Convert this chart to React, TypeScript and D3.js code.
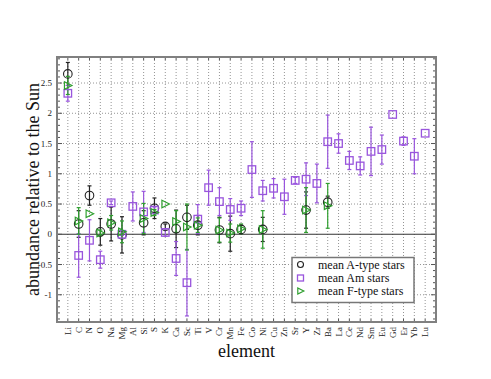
import React from "react";
import * as d3 from "d3";

const elements = ["Li","C","N","O","Na","Mg","Al","Si","S","K","Ca","Sc","Ti","V","Cr","Mn","Fe","Co","Ni","Cu","Zn","Sr","Y","Zr","Ba","La","Ce","Nd","Sm","Eu","Gd","Er","Yb","Lu"];

// mean A-type stars
const aVal: (number | null)[] = [2.65,0.17,0.64,0.04,0.17,-0.01,null,0.19,0.43,0.13,0.09,0.28,0.15,null,0.07,0.01,0.08,null,0.08,null,null,null,0.40,null,0.53,null,null,null,null,null,null,null,null,null];
const aErr: (number | null)[] = [0.19,0.22,0.16,0.22,0.28,0.30,null,0.20,0.17,0.04,0.31,0.20,0.16,null,0.21,0.29,0.07,null,0.20,null,null,null,0.30,null,0.10,null,null,null,null,null,null,null,null,null];

// mean Am stars
const amVal: (number | null)[] = [2.33,-0.35,-0.10,-0.42,0.52,0.00,0.46,0.37,0.40,0.03,-0.40,-0.80,0.25,0.77,0.54,0.41,0.43,1.07,0.72,0.76,0.62,0.89,0.91,0.84,1.53,1.50,1.22,1.13,1.37,1.40,1.98,1.54,1.29,1.67];
const amErr: (number | null)[] = [0.13,0.36,0.34,0.14,0.03,0.02,0.24,0.34,0.05,0.06,0.28,0.55,0.24,0.29,0.23,0.18,0.12,0.46,0.17,0.16,0.29,0.05,0.27,0.32,0.44,0.16,0.15,0.15,0.40,0.24,null,0.07,0.29,null];

// mean F-type stars
const fVal: (number | null)[] = [2.46,0.22,0.34,0.02,0.19,0.04,null,0.26,0.36,0.50,0.21,0.12,0.15,null,0.07,0.02,0.09,null,0.08,null,null,null,0.40,null,0.47,null,null,null,null,null,null,null,null,null];
const fErr: (number | null)[] = [0.15,0.22,null,0.05,0.12,0.18,null,0.25,0.05,null,0.18,0.38,0.12,null,0.20,0.15,0.08,null,0.31,null,null,null,0.37,null,0.37,null,null,null,null,null,null,null,null,null];

const yTicks = [-1, -0.5, 0, 0.5, 1, 1.5, 2, 2.5];
const yTickLabels = ["-1", "-0.5", "0", "0.5", "1", "1.5", "2", "2.5"];
const legendLabels = ["mean A-type stars", "mean Am stars", "mean F-type stars"];

const W = 491, H = 379;
const L = 57, R = 436, T = 57, B = 322;
const PURPLE = "#9955dd";
const GREEN = "#2f9f2f";
const BLACK = "#222";
const FONT = "'Liberation Serif', 'Times New Roman', serif";

export default function App() {
  const x = d3.scaleLinear().domain([-1, elements.length]).range([L, R]);
  const y = d3.scaleLinear().domain([-1.45, 2.93]).range([B, T]);
  const minor = d3.range(-14, 30).map((v) => v / 10);

  const errBars = (vals: (number | null)[], errs: (number | null)[], color: string, key: string) =>
    vals.map((v, i) => {
      const e = errs[i];
      if (v == null || e == null) return null;
      const cx = x(i);
      return (
        <g key={key + i} stroke={color} strokeWidth={1.2}>
          <line x1={cx} x2={cx} y1={y(v + e)} y2={y(v - e)} />
          <line x1={cx - 2} x2={cx + 2} y1={y(v + e)} y2={y(v + e)} />
          <line x1={cx - 2} x2={cx + 2} y1={y(v - e)} y2={y(v - e)} />
        </g>
      );
    });

  const circle = (cx: number, cy: number, r: number, k: string) => (
    <circle key={k} cx={cx} cy={cy} r={r} fill="none" stroke={BLACK} strokeWidth={1.1} />
  );
  const square = (cx: number, cy: number, s: number, k: string) => (
    <rect key={k} x={cx - s / 2} y={cy - s / 2} width={s} height={s} fill="none" stroke={PURPLE} strokeWidth={1.3} />
  );
  const tri = (cx: number, cy: number, s: number, k: string) => (
    <path key={k} d={`M${cx - s * 0.45},${cy - s / 2}L${cx + s * 0.55},${cy}L${cx - s * 0.45},${cy + s / 2}Z`} fill="none" stroke={GREEN} strokeWidth={1.2} />
  );

  return (
    <div style={{ position: "absolute", left: 0, top: 0 }}>
      <svg width={W} height={H} style={{ display: "block", background: "#fff" }}>
        {/* grid */}
        {elements.map((el, i) => (
          <line key={"gx" + el} x1={x(i)} x2={x(i)} y1={T} y2={B} stroke="#888" strokeWidth={0.9} strokeDasharray="1,2" />
        ))}
        {yTicks.filter((t) => t !== 0).map((t) => (
          <line key={"gy" + t} x1={L} x2={R} y1={y(t)} y2={y(t)} stroke="#888" strokeWidth={0.9} strokeDasharray="1,2" />
        ))}
        <line x1={L} x2={R} y1={y(0)} y2={y(0)} stroke="#333" strokeWidth={1.2} />

        {/* ticks */}
        {minor.map((t) => {
          const major = Math.abs(t * 2 - Math.round(t * 2)) < 1e-6;
          const len = major ? 5 : 3;
          return (
            <g key={"mt" + t} stroke="#555" strokeWidth={1}>
              <line x1={L} x2={L + len} y1={y(t)} y2={y(t)} />
              <line x1={R} x2={R - len} y1={y(t)} y2={y(t)} />
            </g>
          );
        })}
        {elements.map((el, i) => (
          <g key={"xt" + el} stroke="#555" strokeWidth={1}>
            <line x1={x(i)} x2={x(i)} y1={B} y2={B - 3} />
            <line x1={x(i)} x2={x(i)} y1={T} y2={T + 3} />
          </g>
        ))}

        {/* series */}
        {errBars(aVal, aErr, BLACK, "ea")}
        {errBars(amVal, amErr, PURPLE, "em")}
        {errBars(fVal, fErr, GREEN, "ef")}
        {aVal.map((v, i) => (v == null ? null : circle(x(i), y(v), 4.3, "ca" + i)))}
        {amVal.map((v, i) => (v == null ? null : square(x(i), y(v), 7.5, "sm" + i)))}
        {fVal.map((v, i) => (v == null ? null : tri(x(i), y(v), 7.5, "tf" + i)))}

        {/* frame */}
        <rect x={L} y={T} width={R - L} height={B - T} fill="none" stroke="#808080" strokeWidth={2} />

        {/* y tick labels */}
        {yTicks.map((t, i) => (
          <text key={"yl" + t} x={L - 5} y={y(t) + 3} textAnchor="end" fontFamily={FONT} fontSize={9} fill="#222">
            {yTickLabels[i]}
          </text>
        ))}
        {/* x tick labels */}
        {elements.map((el, i) => (
          <text key={"xl" + el} transform={`translate(${x(i) + 3},${B + 5}) rotate(-90)`} textAnchor="end" fontFamily={FONT} fontSize={9} fill="#222">
            {el}
          </text>
        ))}

        {/* axis titles */}
        <text transform={`translate(39,${(T + B) / 2}) rotate(-90)`} textAnchor="middle" fontFamily={FONT} fontSize={18} fill="#111">
          abundance relative to the Sun
        </text>
        <text x={(L + R) / 2} y={357} textAnchor="middle" fontFamily={FONT} fontSize={18} fill="#111">
          element
        </text>

        {/* legend */}
        <rect x={292} y={257.5} width={122} height={45} fill="#fff" stroke="#777" strokeWidth={1.5} />
        {circle(300.5, 264.5, 3, "lc")}
        {square(300.5, 278, 6, "ls")}
        {tri(300.5, 291, 6, "lt")}
        {legendLabels.map((lab, i) => (
          <text key={lab} x={318} y={268.5 + i * 13.3} fontFamily={FONT} fontSize={12} fill="#111">
            {lab}
          </text>
        ))}
      </svg>
    </div>
  );
}
